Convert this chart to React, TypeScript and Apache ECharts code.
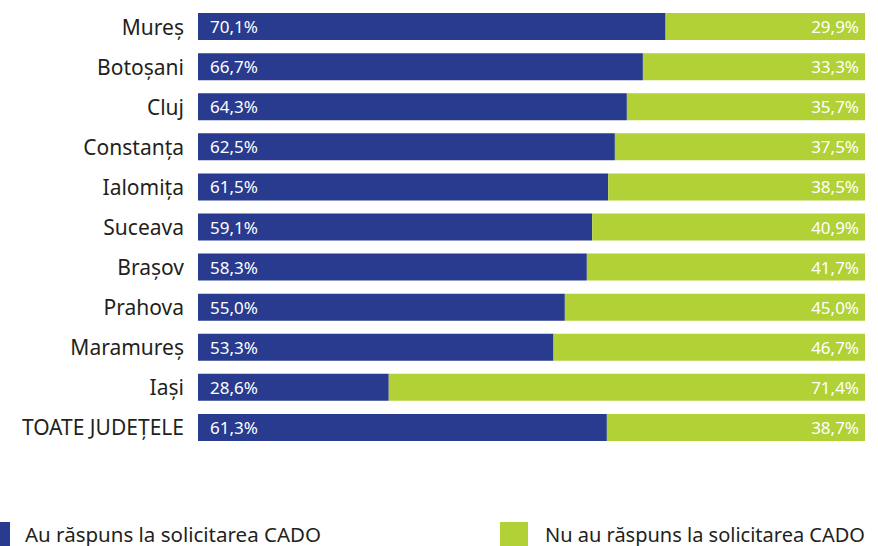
import React, { useEffect, useRef } from "react";
import * as echarts from "echarts";

const categories = [
  "Mureș",
  "Botoșani",
  "Cluj",
  "Constanța",
  "Ialomița",
  "Suceava",
  "Brașov",
  "Prahova",
  "Maramureș",
  "Iași",
  "TOATE JUDEȚELE",
];
const answered = [70.1, 66.7, 64.3, 62.5, 61.5, 59.1, 58.3, 55.0, 53.3, 28.6, 61.3];
const notAnswered = [29.9, 33.3, 35.7, 37.5, 38.5, 40.9, 41.7, 45.0, 46.7, 71.4, 38.7];
const seriesNames = ["Au răspuns la solicitarea CADO", "Nu au răspuns la solicitarea CADO"];

const FONT = "Noto Sans";
const fmt = (v: number) => v.toFixed(1).replace(".", ",") + "%";

export default function App() {
  const ref = useRef<HTMLDivElement>(null);
  useEffect(() => {
    if (!ref.current) return;
    const chart = echarts.init(ref.current, undefined, { renderer: "svg" });
    chart.setOption({
      animation: false,
      textStyle: { fontFamily: FONT },
      grid: { left: 198, right: 13, top: 6.5, height: 441, containLabel: false },
      xAxis: { type: "value", min: 0, max: 100, show: false },
      yAxis: {
        type: "category",
        data: categories,
        inverse: true,
        axisLine: { show: false },
        axisTick: { show: false },
        axisLabel: { color: "#231f20", fontSize: 21, fontFamily: FONT, margin: 14 },
      },
      legend: [
        {
          data: [seriesNames[0]],
          left: -18,
          top: 522,
          icon: "rect",
          itemWidth: 28,
          itemHeight: 24,
          itemGap: 0,
          textStyle: { color: "#231f20", fontSize: 20.5, fontFamily: FONT, padding: [0, 0, 0, 10] },
          padding: 0,
        },
        {
          data: [seriesNames[1]],
          left: 500,
          top: 522,
          icon: "rect",
          itemWidth: 28,
          itemHeight: 24,
          textStyle: { color: "#231f20", fontSize: 20, fontFamily: FONT, padding: [0, 0, 0, 12] },
          padding: 0,
        },
      ],
      series: [
        {
          name: seriesNames[0],
          type: "bar",
          stack: "total",
          data: answered,
          barWidth: 27,
          itemStyle: { color: "#283b8f" },
          label: {
            show: true,
            position: "insideLeft",
            distance: 12,
            color: "#ffffff",
            fontSize: 17,
            fontFamily: FONT,
            formatter: (p: any) => fmt(p.value),
          },
        },
        {
          name: seriesNames[1],
          type: "bar",
          stack: "total",
          data: notAnswered,
          barWidth: 27,
          itemStyle: { color: "#b1d136" },
          label: {
            show: true,
            position: "insideRight",
            distance: 6,
            color: "#ffffff",
            fontSize: 17,
            fontFamily: FONT,
            formatter: (p: any) => fmt(p.value),
          },
        },
      ],
    });
    return () => chart.dispose();
  }, []);
  return (
    <div
      ref={ref}
      style={{ position: "fixed", left: 0, top: 0, width: 878, height: 546, background: "#fff" }}
    />
  );
}
